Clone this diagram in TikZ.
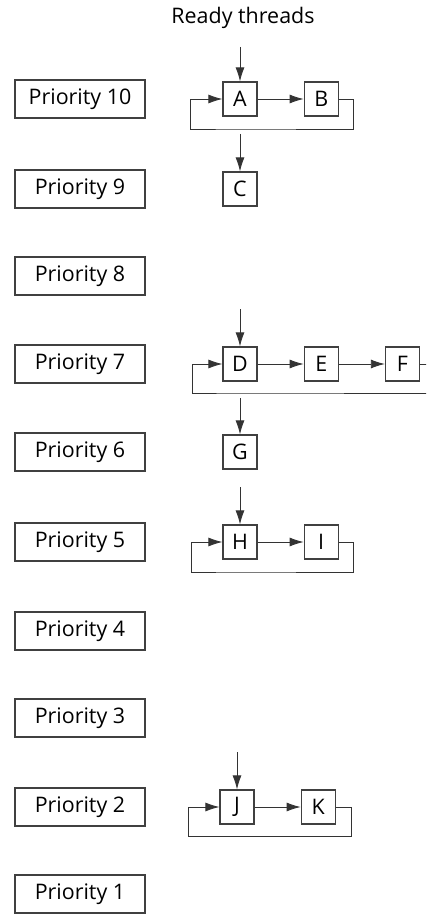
\documentclass[tikz,border=0pt]{standalone}
\usepackage{fontspec}
\setmainfont{Open Sans}
\usetikzlibrary{arrows.meta, positioning, calc}

\begin{document}
\begin{tikzpicture}[
    x=0.02cm, y=-0.02cm,
    every node/.style={font=\fontsize{12.2}{14}\selectfont},
    prio/.style={draw=black!75, line width=0.7pt, minimum width=2.6cm,
                 minimum height=0.76cm, inner sep=0pt},
    thread/.style={draw=black!75, line width=0.7pt, minimum size=0.68cm,
                   inner sep=0pt},
    link/.style={-{Latex[length=2.8mm,width=1.8mm]}, draw=black!80, line width=0.5pt}
]
    \clip (0,0) rectangle (426,918);

    % Priority levels
    \node[prio] (p10) at (80,99)  {Priority 10};
    \node[prio] (p9)  at (80,189) {Priority 9};
    \node[prio] (p8)  at (80,276) {Priority 8};
    \node[prio] (p7)  at (80,364) {Priority 7};
    \node[prio] (p6)  at (80,452) {Priority 6};
    \node[prio] (p5)  at (80,542) {Priority 5};
    \node[prio] (p4)  at (80,631) {Priority 4};
    \node[prio] (p3)  at (80,718) {Priority 3};
    \node[prio] (p2)  at (80,807) {Priority 2};
    \node[prio] (p1)  at (80,894) {Priority 1};

    \node (ready) at (243,18) {Ready threads};

    % Threads
    \node[thread] (A) at (240,99) {A};
    \node[thread, right=0.92cm of A] (B) {B};
    \node[thread] (C) at (240,189) {C};

    \node[thread] (D) at (240,364) {D};
    \node[thread, right=0.92cm of D] (E) {E};
    \node[thread, right=0.92cm of E] (F) {F};
    \node[thread] (G) at (240,452) {G};

    \node[thread] (H) at (240,542) {H};
    \node[thread, right=0.92cm of H] (I) {I};

    \node[thread] (J) at (237,807) {J};
    \node[thread, right=0.92cm of J] (K) {K};

    % Loop points and entry points
    \coordinate (loop10) at ($(A)+(0,30)$);
    \coordinate (loop7)  at ($(D)+(0,29)$);
    \coordinate (loop5)  at ($(H)+(0,30)$);
    \coordinate (loop2)  at ($(J)+(0,29)$);
    \coordinate (in7) at ($(D.north)+(0,-37)$);
    \coordinate (in5) at ($(H.north)+(0,-37)$);
    \coordinate (in2) at ($(J.north)+(0,-37)$);

    % Priority 10
    \draw[link, shorten <=0.24cm] (ready.south -| A.north) -- (A.north);
    \draw[link] (A) -- (B);
    \draw[link] (B.east) -- ++(15,0) |- (loop10) -| ($(A.west)+(-32,0)$) -- (A.west);
    \draw[link, shorten <=0.1cm] (loop10) -- (C.north);

    % Priority 7
    \draw[link] (in7) -- (D.north);
    \draw[link] (D) -- (E);
    \draw[link] (E) -- (F);
    \draw[link] (F.east) -- ++(30,0) |- (loop7) -| ($(D.west)+(-30,0)$) -- (D.west);
    \draw[link, shorten <=0.1cm] (loop7) -- (G.north);

    % Priority 5
    \draw[link] (in5) -- (H.north);
    \draw[link] (H) -- (I);
    \draw[link] (I.east) -- ++(15,0) |- (loop5) -| ($(H.west)+(-31,0)$) -- (H.west);

    % Priority 2
    \draw[link] (in2) -- (J.north);
    \draw[link] (J) -- (K);
    \draw[link] (K.east) -- ++(16,0) |- (loop2) -| ($(J.west)+(-31,0)$) -- (J.west);
\end{tikzpicture}
\end{document}
